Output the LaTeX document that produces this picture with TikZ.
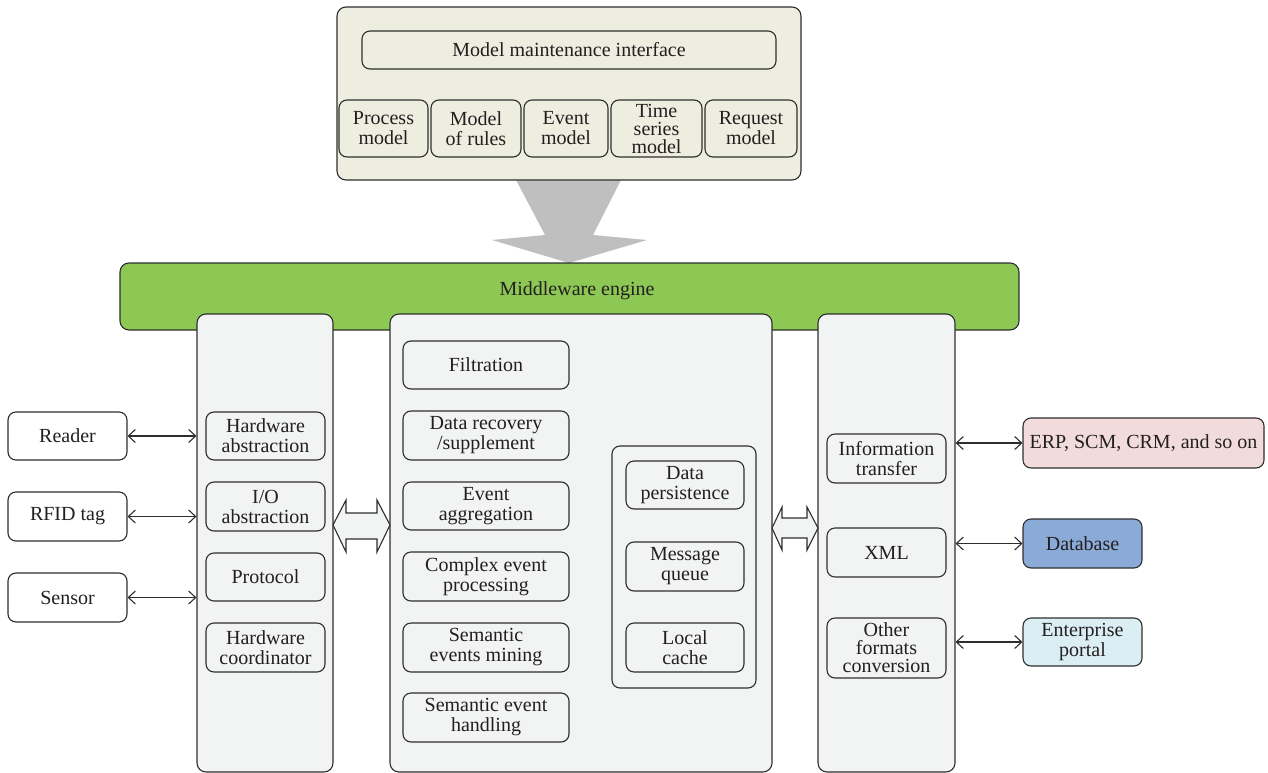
\documentclass[tikz,border=0pt]{standalone}
\usepackage{fontspec}
\setmainfont{Liberation Serif}
\newfontfamily\diagfont{Liberation Serif}
\usetikzlibrary{arrows.meta}
\definecolor{lc}{HTML}{2E2E2E}
\definecolor{txtc}{HTML}{231F20}
\definecolor{topfill}{HTML}{EDEEDF}
\definecolor{colfill}{HTML}{F2F3F3}
\definecolor{mwgreen}{HTML}{8DC855}
\definecolor{arrgray}{HTML}{BFBFBF}
\definecolor{erpfill}{HTML}{F2DCDB}
\definecolor{dbfill}{HTML}{8AAAD8}
\definecolor{portalfill}{HTML}{DBEEF3}
\newcommand\mybox[7]{\node[#1, minimum width={(#5)-(#3)}, minimum height={(#6)-(#4)}] (#2) at ({((#3)+(#5))/2},{((#4)+(#6))/2}) {#7};}
\tikzset{
  outer/.style={draw=lc, line width=1.1pt, rounded corners=9pt, inner sep=0pt},
  box/.style={draw=lc, line width=1.1pt, rounded corners=8pt, inner sep=0pt, align=center, text=txtc,
    font=\diagfont\fontsize{20}{20}\selectfont},
  tight/.style={font=\diagfont\fontsize{20}{18}\selectfont},
  txt/.style={inner sep=0pt, text=txtc, font=\diagfont\fontsize{20}{20}\selectfont},
  conn/.style={draw=lc, line width=1.1pt, {Straight Barb[length=7pt,width=13pt]}-{Straight Barb[length=7pt,width=13pt]}},
  hollow/.style={draw=lc, line width=1.1pt, fill=colfill, line join=miter},
}
\begin{document}
\begin{tikzpicture}[x=1pt,y=-1pt]
\useasboundingbox (0,0) rectangle (1268,773);
% gray arrow from top box to middleware engine
\fill[arrgray] (516,180) -- (621,180) -- (593,235) -- (647,240) -- (569,263) -- (492,240) -- (545,235) -- cycle;
% top model box
\mybox{outer, fill=topfill}{top}{337}{7}{801}{180}{}
\mybox{box}{mmi}{362}{31}{776}{69}{Model maintenance interface}
\mybox{box}{pm}{339}{100}{428}{157}{Process\\model}
\mybox{box}{mr}{431}{100}{521}{157}{Model\\of rules}
\mybox{box}{em}{524}{100}{608}{157}{Event\\model}
\mybox{box,tight}{tsm}{611}{100}{702}{157}{Time\\series\\model}
\mybox{box}{rm}{705}{100}{797}{157}{Request\\model}
% middleware engine
\mybox{outer, fill=mwgreen}{mw}{120}{263}{1019}{330}{}
\node[txt] (mwtext) at (577,291) {Middleware engine};
% columns
\mybox{outer, fill=colfill}{colL}{197}{314}{333}{772}{}
\mybox{outer, fill=colfill}{colM}{390}{314}{772}{772}{}
\mybox{outer, fill=colfill}{colR}{818}{314}{955}{772}{}
% left column items
\mybox{box}{hwa}{206}{412}{325}{460}{Hardware\\abstraction}
\mybox{box}{ioa}{206}{482}{325}{531}{I/O\\abstraction}
\mybox{box}{proto}{206}{553}{325}{601}{Protocol}
\mybox{box}{hwc}{206}{623}{325}{672}{Hardware\\coordinator}
% middle column items
\mybox{box}{filt}{403}{341}{569}{389}{Filtration}
\mybox{box}{drs}{403}{411}{569}{460}{Data recovery\\/supplement}
\mybox{box}{eagg}{403}{482}{569}{530}{Event\\aggregation}
\mybox{box}{cep}{403}{552}{569}{601}{Complex event\\processing}
\mybox{box}{sem}{403}{623}{569}{672}{Semantic\\events mining}
\mybox{box}{seh}{403}{693}{569}{742}{Semantic event\\handling}
\mybox{box}{grp}{612}{446}{756}{688}{}
\mybox{box}{dp}{626}{461}{744}{509}{Data\\persistence}
\mybox{box}{mq}{626}{542}{744}{591}{Message\\queue}
\mybox{box}{lc}{626}{623}{744}{672}{Local\\cache}
% right column items
\mybox{box}{it}{827}{434}{946}{483}{Information\\transfer}
\mybox{box}{xml}{827}{528}{946}{577}{XML}
\mybox{box,tight}{ofc}{827}{618}{946}{678}{Other\\formats\\conversion}
% external left
\mybox{box, fill=white}{reader}{8}{412}{127}{460}{Reader}
\mybox{box, fill=white}{rfid}{8}{492}{127}{541}{RFID tag}
\mybox{box, fill=white}{sensor}{8}{573}{127}{622}{Sensor}
% external right
\mybox{box, fill=erpfill}{erp}{1023}{418}{1264}{468}{ERP, SCM, CRM, and so on}
\mybox{box, fill=dbfill}{db}{1023}{519}{1142}{568}{Database}
\mybox{box, fill=portalfill}{portal}{1023}{618}{1142}{666}{Enterprise\\portal}
% hollow double arrows between columns
\draw[hollow] (333,525) -- (346,500) -- (346,513) -- (377,513) -- (377,500) -- (390,525) -- (377,552) -- (377,539) -- (346,539) -- (346,552) -- cycle;
\draw[hollow] (772,528) -- (782,507) -- (782,518) -- (807,518) -- (807,507) -- (818,528) -- (807,550) -- (807,538) -- (782,538) -- (782,550) -- cycle;
% connectors
\draw[conn] (reader.east) -- (reader.east -| colL.west);
\draw[conn] (rfid.east) -- (rfid.east -| colL.west);
\draw[conn] (sensor.east) -- (sensor.east -| colL.west);
\draw[conn] (erp.west -| colR.east) -- (erp.west);
\draw[conn] (db.west -| colR.east) -- (db.west);
\draw[conn] (portal.west -| colR.east) -- (portal.west);
\end{tikzpicture}
\end{document}
